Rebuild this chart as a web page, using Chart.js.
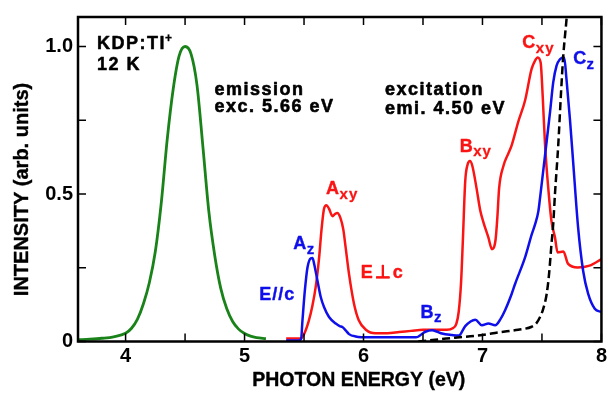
<!DOCTYPE html>
<html>
<head>
<meta charset="utf-8">
<script src="https://cdn.jsdelivr.net/npm/chart.js@4.4.1/dist/chart.umd.min.js"></script>
<style>
  html, body { margin: 0; padding: 0; background: #fff; }
  canvas { display: block; }
</style>
</head>
<body>
<canvas id="chart" width="610" height="399"></canvas>
<script>
// Emission spectrum (excited at 5.66 eV)
const emissionEnergy = [3.60, 3.70, 3.80, 3.90, 4.00, 4.05, 4.10, 4.15, 4.20, 4.25, 4.30, 4.35, 4.40, 4.45, 4.50,
                        4.55, 4.60, 4.65, 4.70, 4.75, 4.80, 4.85, 4.90, 4.95, 5.00, 5.05, 5.10, 5.18];
const emissionIntensity = [0.006, 0.008, 0.011, 0.016, 0.028, 0.045, 0.076, 0.128, 0.200, 0.305, 0.470, 0.685, 0.855, 0.968, 1.000,
                           0.975, 0.870, 0.660, 0.440, 0.290, 0.180, 0.112, 0.068, 0.042, 0.027, 0.018, 0.013, 0.010];

// Excitation spectrum, E perpendicular to c
const perpEnergy = [5.35, 5.40, 5.47, 5.50, 5.54, 5.57, 5.60, 5.627, 5.646, 5.668, 5.688, 5.71, 5.74, 5.76, 5.78, 5.805,
                    5.83, 5.85, 5.878, 5.92, 5.96, 6.02, 6.10, 6.20, 6.30, 6.40, 6.50, 6.60, 6.70, 6.75, 6.78, 6.80,
                    6.82, 6.835, 6.855, 6.875, 6.895, 6.915, 6.95, 6.98, 7.005, 7.05, 7.08, 7.11, 7.125, 7.14, 7.176,
                    7.22, 7.246, 7.30, 7.358, 7.413, 7.442, 7.464, 7.489, 7.506, 7.526, 7.553, 7.58, 7.61, 7.631,
                    7.68, 7.72, 7.80, 7.90, 8.00];
const perpIntensity = [0.010, 0.010, 0.010, 0.025, 0.070, 0.120, 0.190, 0.285, 0.375, 0.450, 0.462, 0.450, 0.425, 0.432, 0.436, 0.420,
                       0.380, 0.318, 0.229, 0.128, 0.072, 0.040, 0.028, 0.028, 0.032, 0.036, 0.040, 0.040, 0.040, 0.045, 0.060, 0.100,
                       0.200, 0.341, 0.543, 0.600, 0.612, 0.595, 0.520, 0.447, 0.408, 0.352, 0.313, 0.345, 0.420, 0.520, 0.595,
                       0.640, 0.666, 0.744, 0.817, 0.924, 0.952, 0.963, 0.946, 0.834, 0.666, 0.520, 0.408, 0.352, 0.302,
                       0.305, 0.263, 0.251, 0.257, 0.279];

// Excitation spectrum, E parallel to c
const parEnergy = [5.35, 5.45, 5.475, 5.487, 5.507, 5.529, 5.557, 5.571, 5.585, 5.613, 5.641, 5.668, 5.71, 5.767, 5.80, 5.822,
                   5.85, 5.878, 5.934, 6.05, 6.20, 6.30, 6.44, 6.52, 6.576, 6.62, 6.66, 6.744, 6.80, 6.855, 6.90, 6.94,
                   6.995, 7.05, 7.107, 7.15, 7.19, 7.246, 7.274, 7.358, 7.414, 7.442, 7.47, 7.484, 7.526, 7.568, 7.595,
                   7.623, 7.651, 7.687, 7.706, 7.735, 7.762, 7.804, 7.846, 7.888, 7.944, 8.00];
const parIntensity = [0.003, 0.003, 0.008, 0.072, 0.173, 0.251, 0.282, 0.283, 0.263, 0.206, 0.150, 0.117, 0.083, 0.061, 0.052, 0.049,
                      0.038, 0.025, 0.017, 0.014, 0.014, 0.014, 0.014, 0.033, 0.038, 0.033, 0.027, 0.022, 0.020, 0.052, 0.068, 0.074,
                      0.055, 0.061, 0.055, 0.075, 0.106, 0.162, 0.195, 0.285, 0.363, 0.397, 0.442, 0.487, 0.632, 0.778, 0.879,
                      0.935, 0.957, 0.963, 0.890, 0.755, 0.610, 0.386, 0.240, 0.162, 0.111, 0.100];

// Absorption edge monitored at 4.50 eV emission
const edgeEnergy = [6.46, 6.60, 6.70, 6.855, 7.00, 7.134, 7.30, 7.414, 7.45, 7.484, 7.51, 7.54, 7.56, 7.58, 7.595, 7.609,
                    7.637, 7.659, 7.679, 7.706, 7.72];
const edgeIntensity = [0.000, 0.006, 0.010, 0.016, 0.022, 0.031, 0.040, 0.050, 0.060, 0.083, 0.110, 0.162, 0.230, 0.330, 0.400, 0.498,
                       0.666, 0.834, 0.968, 1.090, 1.160];

// Axis ticks
const xTicks = [4, 5, 6, 7, 8];
const xMinorTicks = [4.5, 5.5, 6.5, 7.5];
const yTicks = [0, 0.5, 1.0];
const yTickLabels = ['0', '0.5', '1.0'];
const yMinorTicks = [0.25, 0.75];

const FONT = "'Liberation Sans', Arial, Helvetica, sans-serif";
const RED = 'rgb(250,20,20)';
const BLUE = 'rgb(15,15,235)';
const GREEN = 'rgb(25,130,25)';

const toPoints = (xs, ys) => xs.map((x, i) => ({ x: x, y: ys[i] }));

function putText(ctx, str, x, y, size, color, spacing, align, heavy) {
  ctx.font = 'bold ' + size + 'px ' + FONT;
  ctx.fillStyle = color;
  ctx.textAlign = align || 'left';
  ctx.textBaseline = 'alphabetic';
  if ('letterSpacing' in ctx) ctx.letterSpacing = (spacing || 0) + 'px';
  ctx.fillText(str, x, y);
  if (heavy) {
    ctx.strokeStyle = color;
    ctx.lineWidth = heavy;
    ctx.lineJoin = 'round';
    ctx.strokeText(str, x, y);
  }
  const w = ctx.measureText(str).width;
  if ('letterSpacing' in ctx) ctx.letterSpacing = '0px';
  return w;
}

// Peak label with a subscript, anchored in data coordinates
function peakLabel(ctx, xs, ys, main, sub, e, v, color) {
  const x = xs.getPixelForValue(e);
  const y = ys.getPixelForValue(v);
  const w = putText(ctx, main, x, y, 18, color, 0, 'left', 0.4);
  putText(ctx, sub, x + w + 0.5, y + 4.5, 15, color, 1, 'left', 0.3);
}

const framePlugin = {
  id: 'frame',
  afterDatasetsDraw(chart) {
    const ctx = chart.ctx;
    const a = chart.chartArea;
    const xs = chart.scales.x;
    const ys = chart.scales.y;
    ctx.save();

    // inward ticks on all four sides
    ctx.strokeStyle = '#000';
    ctx.lineWidth = 1.5;
    const tick = 8;
    ctx.beginPath();
    xTicks.concat(xMinorTicks).forEach(v => {
      const px = xs.getPixelForValue(v);
      ctx.moveTo(px, a.bottom); ctx.lineTo(px, a.bottom - tick);
      ctx.moveTo(px, a.top); ctx.lineTo(px, a.top + tick);
    });
    yTicks.concat(yMinorTicks).forEach(v => {
      const py = ys.getPixelForValue(v);
      ctx.moveTo(a.left, py); ctx.lineTo(a.left + tick, py);
      ctx.moveTo(a.right, py); ctx.lineTo(a.right - tick, py);
    });
    ctx.stroke();

    // frame
    ctx.lineWidth = 2.5;
    ctx.strokeRect(a.left, a.top, a.right - a.left, a.bottom - a.top);

    // sample and conditions
    const kx = xs.getPixelForValue(3.759);
    const w = putText(ctx, 'KDP:Tl', kx, ys.getPixelForValue(0.990), 18, '#000', 1.5, 'left', 0.5);
    putText(ctx, '+', kx + w - 1, ys.getPixelForValue(1.016), 12, '#000', 0, 'left', 0.3);
    putText(ctx, '12 K', kx, ys.getPixelForValue(0.920), 18, '#000', 1.5, 'left', 0.5);

    const ex = xs.getPixelForValue(4.747);
    putText(ctx, 'emission', ex, ys.getPixelForValue(0.837), 18, '#000', 1.5, 'left', 0.6);
    putText(ctx, 'exc. 5.66 eV', ex, ys.getPixelForValue(0.778), 18, '#000', 1.5, 'left', 0.6);

    const cx = xs.getPixelForValue(6.180);
    putText(ctx, 'excitation', cx, ys.getPixelForValue(0.834), 18, '#000', 1.5, 'left', 0.6);
    putText(ctx, 'emi. 4.50 eV', cx, ys.getPixelForValue(0.772), 18, '#000', 1.5, 'left', 0.6);

    // peak labels
    peakLabel(ctx, xs, ys, 'A', 'xy', 5.685, 0.499, RED);
    peakLabel(ctx, xs, ys, 'B', 'xy', 6.808, 0.644, RED);
    peakLabel(ctx, xs, ys, 'C', 'xy', 7.335, 0.994, RED);
    peakLabel(ctx, xs, ys, 'A', 'z', 5.409, 0.313, BLUE);
    peakLabel(ctx, xs, ys, 'B', 'z', 6.479, 0.081, BLUE);
    peakLabel(ctx, xs, ys, 'C', 'z', 7.762, 0.940, BLUE);

    // polarisation labels
    putText(ctx, 'E//c', xs.getPixelForValue(5.124), ys.getPixelForValue(0.139), 18, BLUE, 1, 'left', 0.4);
    putText(ctx, 'E\u22A5c', xs.getPixelForValue(5.976), ys.getPixelForValue(0.216), 18, RED, 2, 'left', 0.4);

    // axis titles
    putText(ctx, 'PHOTON ENERGY (eV)', (a.left + a.right) / 2 + 19, 386, 19.5, '#000', 0, 'center', 0.4);
    ctx.translate(28, 189.5);
    ctx.rotate(-Math.PI / 2);
    putText(ctx, 'INTENSITY (arb. units)', 0, 0, 20, '#000', 0, 'center', 0.4);

    ctx.restore();
  }
};

const tickFont = { family: FONT, size: 20, weight: 'bold' };

new Chart(document.getElementById('chart'), {
  type: 'line',
  data: {
    datasets: [
      { label: 'emi. 4.50 eV', data: toPoints(edgeEnergy, edgeIntensity), borderColor: '#000',
        borderWidth: 2.5, borderDash: [8, 4], order: 0 },
      { label: 'E//c', data: toPoints(parEnergy, parIntensity), borderColor: BLUE, borderWidth: 2.5, order: 1 },
      { label: 'E\u22A5c', data: toPoints(perpEnergy, perpIntensity), borderColor: RED, borderWidth: 2.5, order: 2 },
      { label: 'emission', data: toPoints(emissionEnergy, emissionIntensity), borderColor: GREEN, borderWidth: 2.8, order: 3 }
    ]
  },
  options: {
    responsive: false,
    animation: false,
    devicePixelRatio: 1,
    parsing: false,
    layout: { padding: { top: 14, right: 6, left: 0, bottom: 0 } },
    elements: {
      point: { radius: 0 },
      line: { cubicInterpolationMode: 'monotone', fill: false, borderCapStyle: 'butt' }
    },
    plugins: { legend: { display: false }, tooltip: { enabled: false } },
    scales: {
      x: {
        type: 'linear', min: 3.6, max: 8,
        grid: { display: false, drawTicks: false },
        border: { display: false },
        ticks: { font: tickFont, color: '#000', padding: 3, maxRotation: 0, autoSkip: false,
                 callback: v => String(v) },
        afterBuildTicks: s => { s.ticks = xTicks.map(v => ({ value: v })); },
        afterFit: s => { s.height = 57.5; }
      },
      y: {
        type: 'linear', min: 0, max: 1.1,
        grid: { display: false, drawTicks: false },
        border: { display: false },
        ticks: { font: tickFont, color: '#000', padding: 5, autoSkip: false,
                 callback: v => {
                   const i = yTicks.findIndex(t => Math.abs(t - v) < 1e-6);
                   return i >= 0 ? yTickLabels[i] : '';
                 } },
        afterBuildTicks: s => { s.ticks = yTicks.map(v => ({ value: v })); },
        afterFit: s => { s.width = 78; }
      }
    }
  },
  plugins: [framePlugin]
});
</script>
</body>
</html>
